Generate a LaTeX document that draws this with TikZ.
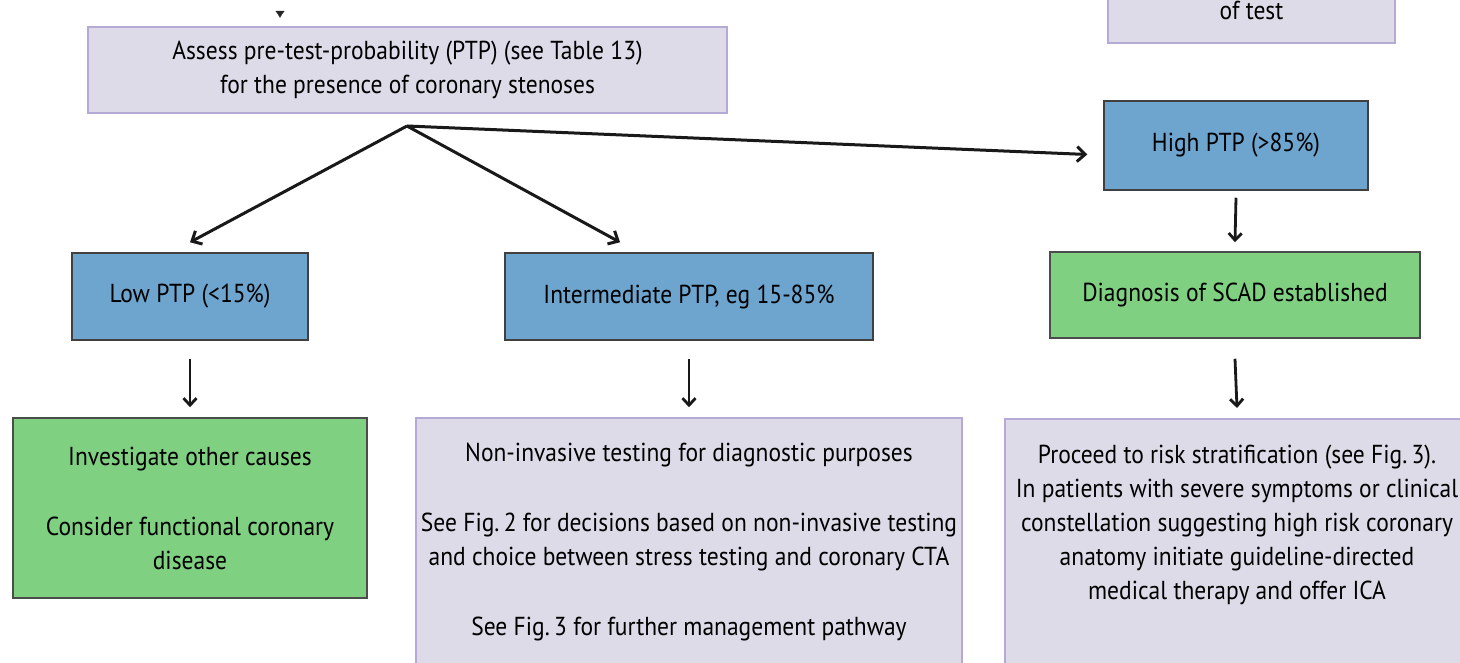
\documentclass[tikz,border=0pt]{standalone}
\usepackage{fontspec}
\setmainfont{PT Sans}[FakeStretch=0.905]
\usepackage{tikz}
\usetikzlibrary{positioning,shapes,arrows,arrows.meta}

\definecolor{lilacfill}{HTML}{DEDBE9}
\definecolor{lilacline}{HTML}{B5AAD6}
\definecolor{ptpblue}{HTML}{6DA5CF}
\definecolor{scadgreen}{HTML}{80D082}

\begin{document}
\begin{tikzpicture}[x=1pt,y=-1pt,
  mybox/.style = {rectangle, align=center, inner sep=0pt, text=black,
                  font=\fontsize{26}{34}\selectfont},
  lilacbox/.style = {mybox, fill=lilacfill, draw=lilacline, line width=1.5pt},
  bluebox/.style = {mybox, fill=ptpblue, draw=black!75, line width=1.5pt},
  greenbox/.style = {mybox, fill=scadgreen, draw=black!70, line width=1.5pt},
  fork/.style = {-{Straight Barb[length=8pt,width=15pt]}, line width=3pt, black!90},
  down/.style = {-{Straight Barb[length=7pt,width=13pt]}, line width=2.8pt, black!90}]
\useasboundingbox (0,0) rectangle (1460,663);
\clip (0,0) rectangle (1460,663);

% boxes
\node[lilacbox, minimum width=639pt, minimum height=86pt] (assess) at (407.5,70)
  {Assess pre-test-probability (PTP) (see Table 13)\\for the presence of coronary stenoses};
\node[lilacbox, minimum width=287pt, minimum height=66pt] (oftest) at (1251.5,10) {of test};
\node[bluebox, minimum width=264pt, minimum height=89pt] (high) at (1236,145.5) {High PTP (>85\%)};
\node[bluebox, minimum width=236pt, minimum height=87pt] (low) at (190,296.5) {Low PTP (<15\%)};
\node[bluebox, minimum width=368pt, minimum height=87pt] (inter) at (689,296.5) {Intermediate PTP, eg 15-85\%};
\node[greenbox, minimum width=370pt, minimum height=86pt] (diag) at (1235,295) {Diagnosis of SCAD established};
\node[greenbox, minimum width=354pt, minimum height=180pt] (invest) at (190,508)
  {Investigate other causes\\[36pt]Consider functional coronary\\disease};
\node[lilacbox, minimum width=546pt, minimum height=249pt] (noninv) at (689,542.5)
  {Non-invasive testing for diagnostic purposes\\[36pt]See Fig.\,2 for decisions based on non-invasive testing\\
   and choice between stress testing and coronary CTA\\[36pt]See Fig.\,3 for further management pathway};
\node[lilacbox, anchor=north, inner ysep=26pt] (risk) at (1237,418)
  {\parbox[t][280pt][t]{464pt}{\centering Proceed to risk stratification (see Fig.\,3).\\
   In patients with severe symptoms or clinical\\constellation suggesting high risk coronary\\
   anatomy initiate guideline-directed\\medical therapy and offer ICA}};

% arrows
\coordinate (prev) at (280,11);
\coordinate (prevend) at (280,18);
\draw[-{Latex[length=7pt,width=9pt]}, line width=0.2pt, black!85] (prev) -- (prevend);
\coordinate (split) at (407,126);
\draw[fork] (split) -- ([yshift=10pt]low.north);
\draw[fork] (split) -- ([xshift=-69pt,yshift=10pt]inter.north);
\draw[fork] (split) -- ([xshift=-16pt,yshift=-9pt]high.west);
\draw[down] ([yshift=-7pt]high.south) -- ([yshift=9pt]diag.north);
\draw[down] ([yshift=-18pt]low.south) -- ([yshift=10pt]invest.north);
\draw[down] ([yshift=-18pt]inter.south) -- ([yshift=10pt]noninv.north);
\draw[down] ([yshift=-20pt]diag.south) -- ([yshift=10pt]risk.north);
\end{tikzpicture}
\end{document}
